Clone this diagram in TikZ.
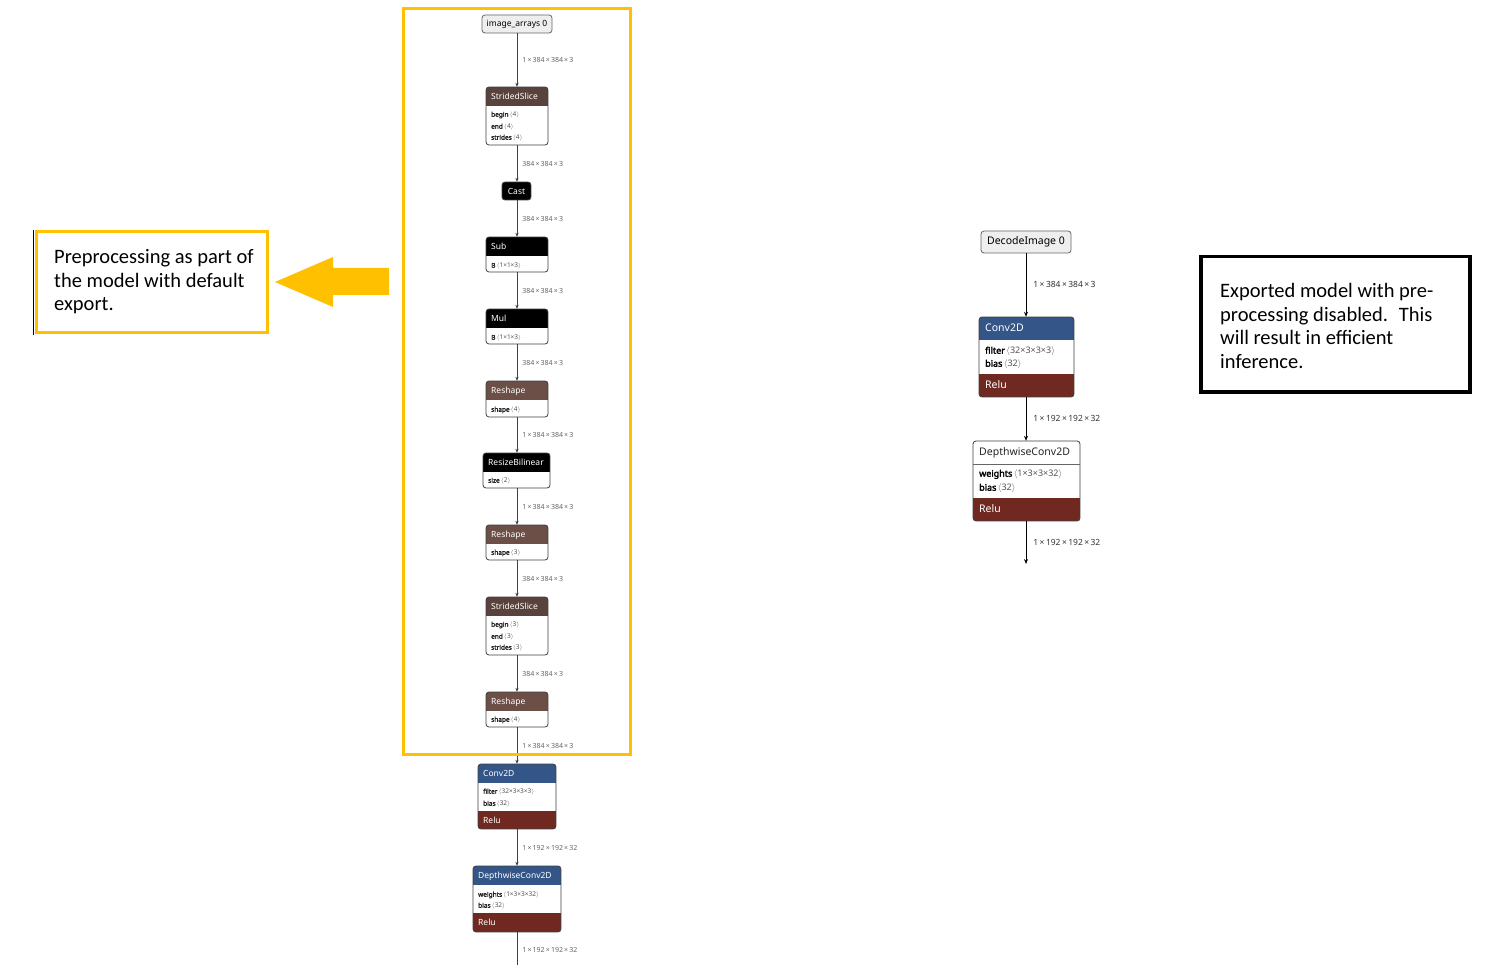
\documentclass[tikz,border=0pt]{standalone}
\usepackage{fontspec}
\setmainfont{Noto Sans}[AutoFakeBold=2.5]
\newfontfamily\callfont{Carlito}
\usetikzlibrary{arrows.meta}
\definecolor{layerblue}{HTML}{335588}
\definecolor{actred}{HTML}{702921}
\definecolor{shapebrown}{HTML}{6C4F47}
\definecolor{tensorbrown}{HTML}{59423B}
\definecolor{gold}{HTML}{FFC000}
\definecolor{lblgray}{HTML}{666666}
\definecolor{valgray}{HTML}{555555}
\definecolor{inputfill}{HTML}{EEEEEE}
\newcommand\av[1]{\,{\color{valgray}$\langle$#1$\rangle$}}
\newcommand\mytimes{\,×\,}
\tikzset{
  frame/.style={draw=black!75, line width=0.8pt, rounded corners=3pt},
  inbox/.style={draw=black!60, fill=inputfill, rounded corners=3pt, line width=0.8pt, inner sep=0pt},
  ltitle/.style={inner sep=0pt, anchor=mid west, font=\fontsize{8.5}{10}\selectfont, text=white},
  lattr/.style={inner sep=0pt, anchor=mid west, font=\fontsize{6.5}{8}\selectfont, text=black!85},
  llbl/.style={inner sep=0pt, anchor=mid west, font=\fontsize{7}{8}\selectfont, text=lblgray, xshift=5pt},
  rtitle/.style={inner sep=0pt, anchor=mid west, font=\fontsize{10.5}{12}\selectfont, text=white},
  rattr/.style={inner sep=0pt, anchor=mid west, font=\fontsize{9}{11}\selectfont, text=black},
  rlbl/.style={inner sep=0pt, anchor=mid west, font=\fontsize{8.5}{10}\selectfont, text=black!80, xshift=7pt},
  ledge/.style={draw=black!75, line width=0.7pt, -{Stealth[length=4pt,width=3.2pt]}},
  lline/.style={draw=black!75, line width=0.7pt},
  redge/.style={draw=black, line width=0.9pt, -{Stealth[length=5pt,width=4pt]}},
  calltext/.style={inner sep=0pt, anchor=north west, align=left, font=\callfont\fontsize{20.5}{23.7}\selectfont},
}
% name, left, top, right, bottom, header bottom, header colour, footer top, footer colour
\newcommand\opbox[9]{%
  \node[inner sep=0pt, minimum width={#4-#2}, minimum height={#5-#3}] (#1) at ({(#2+#4)/2},{(#3+#5)/2}) {};
  \begin{scope}
    \clip[rounded corners=3pt] (#2,#3) rectangle (#4,#5);
    \fill[white] (#2,#3) rectangle (#4,#5);
    \fill[#7] (#2,#3) rectangle (#4,#6);
    \fill[#9] (#2,#8) rectangle (#4,#5);
  \end{scope}
  \draw[frame] (#2,#3) rectangle (#4,#5);
}
\begin{document}
\begin{tikzpicture}[x=1pt,y=-1pt]
\useasboundingbox (0,0) rectangle (1506,965);
\fill[white] (0,0) rectangle (1506,965);

% ---------------- left graph ----------------
\node[inbox, minimum width=70, minimum height=18, font=\fontsize{8.5}{10}\selectfont] (in0) at (517,24) {image\_arrays 0};

\opbox{ss1}{486}{87}{548}{145}{106}{tensorbrown}{145}{white}
\node[ltitle] (ss1t) at (491,97) {StridedSlice};
\node[lattr] (ss1a) at (491,114) {\textbf{begin}\av{4}};
\node[lattr] (ss1b) at (491,126) {\textbf{end}\av{4}};
\node[lattr] (ss1c) at (491,137) {\textbf{strides}\av{4}};

\opbox{cast}{502}{182}{531}{200}{200}{black}{200}{black}
\node[ltitle, anchor=mid] (castt) at (516.5,191.5) {Cast};

\opbox{sub}{486}{237}{548}{272}{256}{black}{272}{white}
\node[ltitle] (subt) at (491,247) {Sub};
\node[lattr] (suba) at (491,265) {\textbf{B}\av{1×1×3}};

\opbox{mul}{486}{309}{548}{344}{328}{black}{344}{white}
\node[ltitle] (mult) at (491,319) {Mul};
\node[lattr] (mula) at (491,337) {\textbf{B}\av{1×1×3}};

\opbox{rs1}{486}{381}{548}{417}{400}{shapebrown}{417}{white}
\node[ltitle] (rs1t) at (491,391) {Reshape};
\node[lattr] (rs1a) at (491,409) {\textbf{shape}\av{4}};

\opbox{rb}{483}{453}{550}{488}{472}{black}{488}{white}
\node[ltitle] (rbt) at (488,463) {ResizeBilinear};
\node[lattr] (rba) at (488,480) {\textbf{size}\av{2}};

\opbox{rs2}{486}{525}{548}{560}{544}{shapebrown}{560}{white}
\node[ltitle] (rs2t) at (491,535) {Reshape};
\node[lattr] (rs2a) at (491,552) {\textbf{shape}\av{3}};

\opbox{ss2}{486}{597}{548}{655}{616}{tensorbrown}{655}{white}
\node[ltitle] (ss2t) at (491,607) {StridedSlice};
\node[lattr] (ss2a) at (491,624) {\textbf{begin}\av{3}};
\node[lattr] (ss2b) at (491,636) {\textbf{end}\av{3}};
\node[lattr] (ss2c) at (491,647) {\textbf{strides}\av{3}};

\opbox{rs3}{486}{692}{548}{727}{711}{shapebrown}{727}{white}
\node[ltitle] (rs3t) at (491,702) {Reshape};
\node[lattr] (rs3a) at (491,719) {\textbf{shape}\av{4}};

\opbox{conv}{478}{764}{556}{829}{783}{layerblue}{811}{actred}
\node[ltitle] (convt) at (483,774) {Conv2D};
\node[lattr] (conva) at (483,791) {\textbf{filter}\av{32×3×3×3}};
\node[lattr] (convb) at (483,803) {\textbf{bias}\av{32}};
\node[ltitle] (convr) at (483,820.5) {Relu};

\opbox{dw}{473}{866}{561}{932}{885}{layerblue}{913}{actred}
\node[ltitle] (dwt) at (478,876) {DepthwiseConv2D};
\node[lattr] (dwa) at (478,894) {\textbf{weights}\av{1×3×3×32}};
\node[lattr] (dwb) at (478,905) {\textbf{bias}\av{32}};
\node[ltitle] (dwr) at (478,923) {Relu};

\coordinate (lout) at (517,968);

\draw[ledge] (in0.south) -- (in0.south |- ss1.north) node[llbl, midway] (l1) {1\mytimes384\mytimes384\mytimes3};
\draw[ledge] (ss1.south) -- (ss1.south |- cast.north) node[llbl, midway] (l2) {384\mytimes384\mytimes3};
\draw[ledge] (ss1.south |- cast.south) -- (ss1.south |- sub.north) node[llbl, midway] (l3) {384\mytimes384\mytimes3};
\draw[ledge] (sub.south) -- (sub.south |- mul.north) node[llbl, midway] (l4) {384\mytimes384\mytimes3};
\draw[ledge] (mul.south) -- (mul.south |- rs1.north) node[llbl, midway] (l5) {384\mytimes384\mytimes3};
\draw[ledge] (rs1.south) -- (rs1.south |- rb.north) node[llbl, midway] (l6) {1\mytimes384\mytimes384\mytimes3};
\draw[ledge] (rs1.south |- rb.south) -- (rs1.south |- rs2.north) node[llbl, midway] (l7) {1\mytimes384\mytimes384\mytimes3};
\draw[ledge] (rs2.south) -- (rs2.south |- ss2.north) node[llbl, midway] (l8) {384\mytimes384\mytimes3};
\draw[ledge] (ss2.south) -- (ss2.south |- rs3.north) node[llbl, midway] (l9) {384\mytimes384\mytimes3};
\draw[ledge] (rs3.south) -- (rs3.south |- conv.north) node[llbl, midway] (l10) {1\mytimes384\mytimes384\mytimes3};
\draw[ledge] (conv.south) -- (conv.south |- dw.north) node[llbl, midway] (l11) {1\mytimes192\mytimes192\mytimes32};
\draw[lline] (dw.south) -- (lout) node[llbl, midway] (l12) {1\mytimes192\mytimes192\mytimes32};

% preprocessing frame
\node[draw=gold, line width=3pt, inner sep=0pt, minimum width=227, minimum height=745.5] (preproc) at (516.5,381.25) {};

% left callout
\draw[black, line width=1pt] (33.5,230) -- (33.5,335);
\node[draw=gold, line width=3pt, inner sep=0pt, minimum width=231, minimum height=100.5] (calloutL) at (151.5,281.75) {};
\node[calltext] (ctL) at (54,249) {Preprocessing as part of\\the model with default\\export.};
\fill[gold] (389,268) -- (333,268) -- (333,257) -- (275,282) -- (333,307) -- (333,295) -- (389,295) -- cycle;

% ---------------- right graph ----------------
\node[inbox, minimum width=90, minimum height=22, font=\fontsize{10.5}{12}\selectfont] (din) at (1026,242) {DecodeImage 0};

\opbox{rconv}{979}{317}{1074}{397}{340}{layerblue}{374}{actred}
\node[rtitle] (rconvt) at (985,329) {Conv2D};
\node[rattr] (rconva) at (985,351) {\textbf{filter}\av{32×3×3×3}};
\node[rattr] (rconvb) at (985,364) {\textbf{bias}\av{32}};
\node[rtitle] (rconvr) at (985,386) {Relu};

\opbox{rdw}{973}{441}{1080}{521}{464}{white}{498}{actred}
\draw[black!60, line width=1pt] (973,464) -- (1080,464);
\node[rtitle, text=black!85] (rdwt) at (979,453) {DepthwiseConv2D};
\node[rattr] (rdwa) at (979,474) {\textbf{weights}\av{1×3×3×32}};
\node[rattr] (rdwb) at (979,488) {\textbf{bias}\av{32}};
\node[rtitle] (rdwr) at (979,510) {Relu};

\coordinate (rout) at (1026,564);
\draw[redge] (din.south) -- (din.south |- rconv.north) node[rlbl, midway] (r1) {1\mytimes384\mytimes384\mytimes3};
\draw[redge] (din.south |- rconv.south) -- (din.south |- rdw.north) node[rlbl, midway] (r2) {1\mytimes192\mytimes192\mytimes32};
\draw[redge] (din.south |- rdw.south) -- (rout) node[rlbl, midway] (r3) {1\mytimes192\mytimes192\mytimes32};

% right callout
\node[draw=black, line width=3.2pt, inner sep=0pt, minimum width=269, minimum height=135.5] (calloutR) at (1335.5,324.25) {};
\node[calltext] (ctR) at (1220,283) {Exported model with pre-\\processing disabled.~ This\\will result in efficient\\inference.};
\end{tikzpicture}
\end{document}
